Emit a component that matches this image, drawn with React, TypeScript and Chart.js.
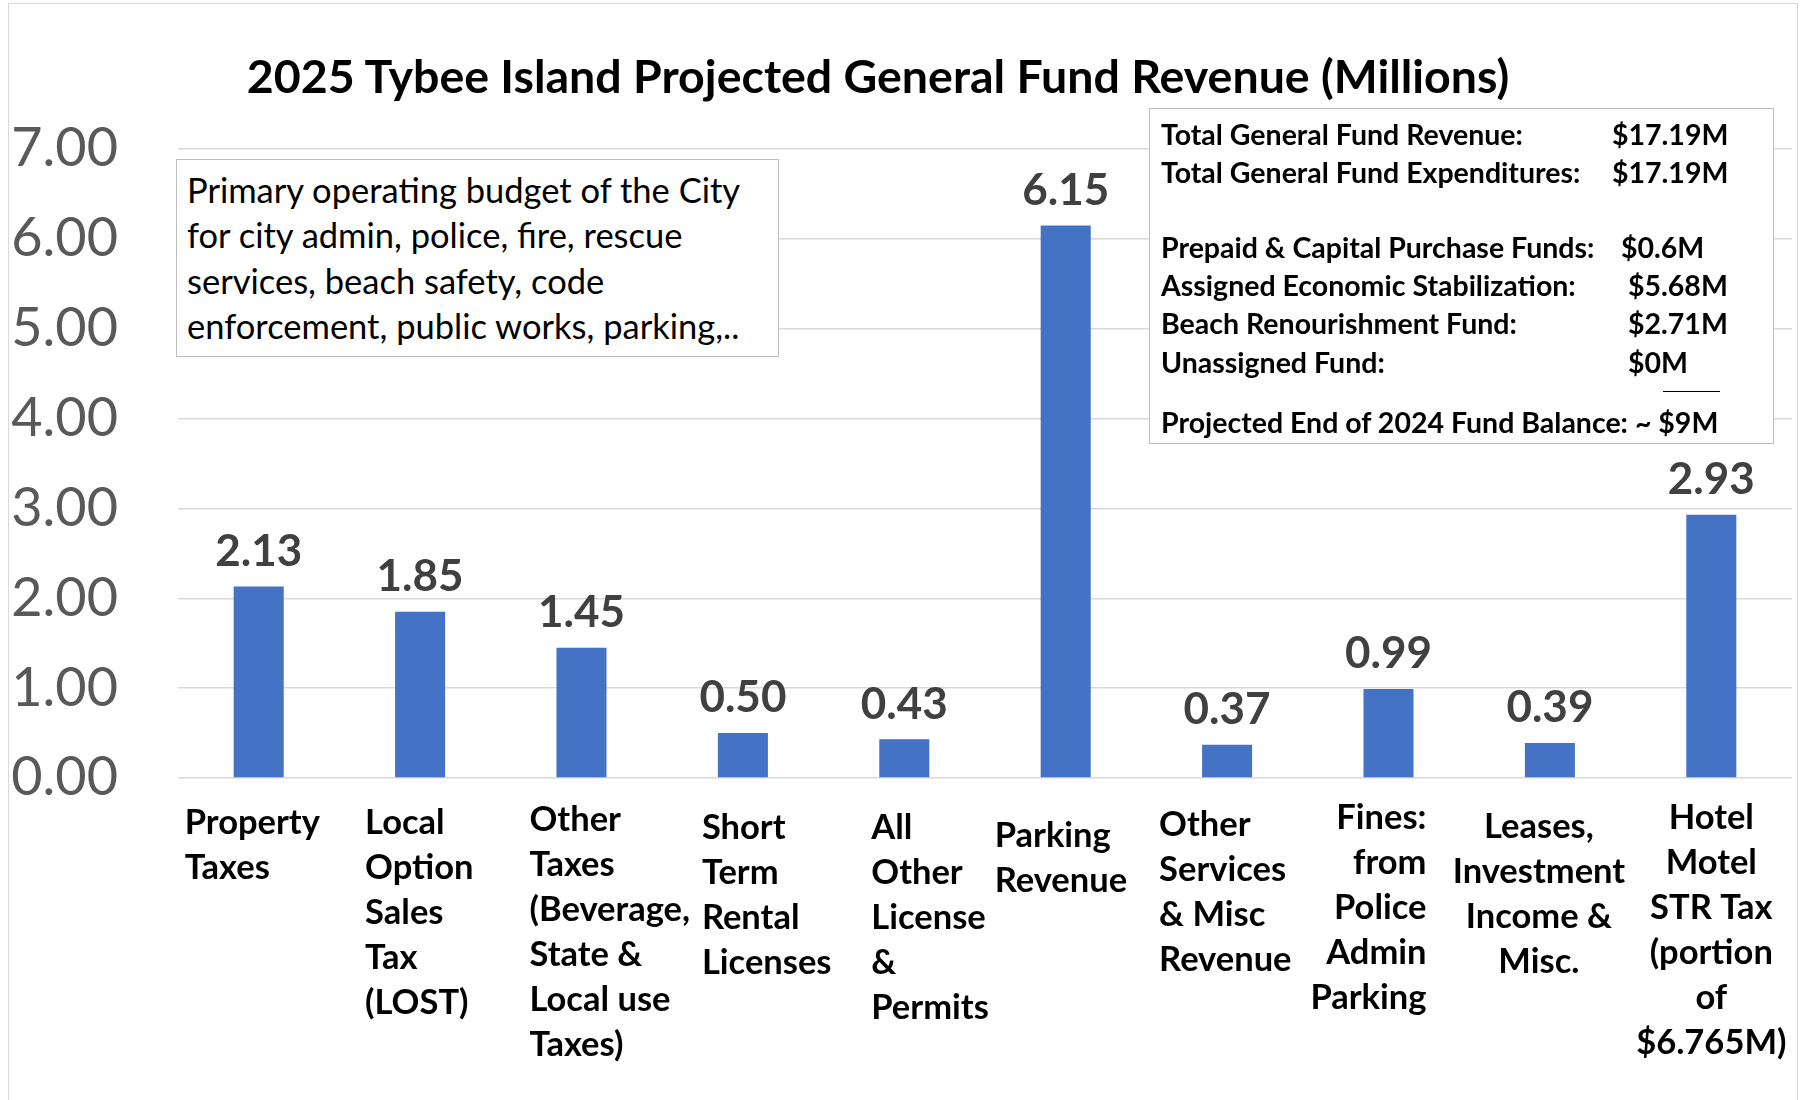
import React, { useEffect, useRef } from "react";
import { Chart, registerables } from "chart.js";

Chart.register(...registerables);

const categories: string[][] = [
  ["Property", "Taxes"],
  ["Local", "Option", "Sales", "Tax", "(LOST)"],
  ["Other", "Taxes", "(Beverage,", "State &", "Local use", "Taxes)"],
  ["Short", "Term", "Rental", "Licenses"],
  ["All", "Other", "License", "&", "Permits"],
  ["Parking", "Revenue"],
  ["Other", "Services", "& Misc", "Revenue"],
  ["Fines:", "from", "Police", "Admin", "Parking"],
  ["Leases,", "Investment", "Income &", "Misc."],
  ["Hotel", "Motel", "STR Tax", "(portion", "of", "$6.765M)"],
];

const revenue: number[] = [2.13, 1.85, 1.45, 0.5, 0.43, 6.15, 0.37, 0.99, 0.39, 2.93];

const yTicks: number[] = [0, 1, 2, 3, 4, 5, 6, 7];

const title = "2025 Tybee Island Projected General Fund Revenue (Millions)";

const noteLines: string[] = [
  "Primary operating budget of the City",
  "for city admin, police, fire, rescue",
  "services, beach safety, code",
  "enforcement, public works, parking,..",
];

const summaryLabels: string[] = [
  "Total General Fund Revenue:",
  "Total General Fund Expenditures:",
  "Prepaid & Capital Purchase Funds:",
  "Assigned Economic Stabilization:",
  "Beach Renourishment Fund:",
  "Unassigned Fund:",
];
const summaryValues: string[] = ["$17.19M", "$17.19M", "$0.6M", "$5.68M", "$2.71M", "$0M"];
const balanceLine = "Projected End of 2024 Fund Balance: ~ $9M";

// label styling per category (alignment, horizontal offset from category centre, first-line offset below axis)
const labelAlign: CanvasTextAlign[] = ["left", "left", "left", "left", "left", "left", "left", "right", "center", "center"];
const labelDx: number[] = [-74, -55, -52, -41, -33, -71, -68, 38, -11, 0];
const labelDy: number[] = [45, 45, 42, 50, 50, 58, 47, 40, 49, 40];

const FONT = "Lato, 'Open Sans', sans-serif";

export default function App() {
  const canvasRef = useRef<HTMLCanvasElement | null>(null);

  useEffect(() => {
    const canvas = canvasRef.current;
    if (!canvas) return;

    const valueLabels = {
      id: "valueLabels",
      afterDatasetsDraw(chart: any) {
        const { ctx } = chart;
        const meta = chart.getDatasetMeta(0);
        ctx.save();
        ctx.font = `bold 44px ${FONT}`;
        ctx.fillStyle = "#404040";
        ctx.textAlign = "center";
        ctx.textBaseline = "middle";
        meta.data.forEach((bar: any, i: number) => {
          ctx.fillText(revenue[i].toFixed(2), bar.x, bar.y - 35);
        });
        ctx.restore();
      },
    };

    const xLabels = {
      id: "xLabels",
      afterDraw(chart: any) {
        const { ctx, chartArea } = chart;
        const xs = chart.scales.x;
        ctx.save();
        ctx.font = `bold 34.5px ${FONT}`;
        ctx.fillStyle = "#000000";
        ctx.textBaseline = "middle";
        categories.forEach((lines, i) => {
          const cx = xs.getPixelForValue(i) + labelDx[i];
          ctx.textAlign = labelAlign[i];
          lines.forEach((line, j) => {
            ctx.fillText(line, cx, chartArea.bottom + labelDy[i] + j * 45);
          });
        });
        ctx.restore();
      },
    };

    const chart = new Chart(canvas, {
      type: "bar",
      data: {
        labels: categories.map((c) => c.join(" ")),
        datasets: [
          {
            data: revenue,
            backgroundColor: "#4472C4",
            borderWidth: 0,
            barPercentage: 0.31,
            categoryPercentage: 1,
          },
        ],
      },
      options: {
        animation: false,
        responsive: false,
        maintainAspectRatio: false,
        layout: { padding: { left: 0, right: 10, top: 149, bottom: 322 } },
        plugins: {
          legend: { display: false },
          tooltip: { enabled: false },
          title: { display: false },
        },
        scales: {
          x: {
            grid: { display: false },
            border: { display: false },
            ticks: { display: false },
            afterFit: (s: any) => {
              s.height = 0;
            },
          },
          y: {
            min: 0,
            max: 7,
            afterBuildTicks: (s: any) => {
              s.ticks = yTicks.map((v) => ({ value: v }));
            },
            afterFit: (s: any) => {
              s.width = 178;
            },
            grid: { color: "#D9D9D9", lineWidth: 1.5, drawTicks: false },
            border: { display: false },
            ticks: {
              padding: 60,
              color: "#595959",
              font: { family: FONT, size: 54 },
              callback: (v: any) => Number(v).toFixed(2),
            },
          },
        },
      },
      plugins: [valueLabels, xLabels],
    });
    return () => chart.destroy();
  }, []);

  const boxBorder = "1.5px solid #BFBFBF";
  const rowTops = [133, 171, 246, 284, 322, 361];
  const valueLefts = [462, 462, 471, 478, 478, 478];

  return (
    <div
      style={{
        position: "fixed",
        left: 0,
        top: 0,
        width: 1802,
        height: 1100,
        background: "#ffffff",
        overflow: "hidden",
        fontFamily: FONT,
      }}
    >
      <canvas ref={canvasRef} width={1802} height={1100} style={{ position: "absolute", left: 0, top: 0 }} />
      <div
        style={{
          position: "absolute",
          left: 8,
          top: 3,
          width: 1788,
          height: 1110,
          border: "1.5px solid #D9D9D9",
          pointerEvents: "none",
        }}
      />
      <div
        style={{
          position: "absolute",
          left: 0,
          width: 1756,
          top: 47,
          height: 56,
          lineHeight: "56px",
          textAlign: "center",
          fontWeight: 700,
          fontSize: 46.5,
          color: "#000",
          whiteSpace: "nowrap",
        }}
      >
        {title}
      </div>
      <div
        style={{
          position: "absolute",
          left: 176,
          top: 159,
          width: 603,
          height: 198,
          boxSizing: "border-box",
          border: boxBorder,
          background: "#fff",
          paddingLeft: 10,
          paddingTop: 7,
          fontSize: 34.5,
          lineHeight: "45.3px",
          color: "#000",
          whiteSpace: "nowrap",
        }}
      >
        {noteLines.map((l, i) => (
          <div key={i}>{l}</div>
        ))}
      </div>
      <div
        style={{
          position: "absolute",
          left: 1149,
          top: 108,
          width: 625,
          height: 336,
          boxSizing: "border-box",
          border: boxBorder,
          background: "#fff",
          fontSize: 28.5,
          fontWeight: 700,
          color: "#000",
          whiteSpace: "nowrap",
        }}
      >
        {summaryLabels.map((l, i) => (
          <React.Fragment key={i}>
            <div style={{ position: "absolute", left: 11, top: rowTops[i] - 108 - 19, lineHeight: "38px" }}>{l}</div>
            <div style={{ position: "absolute", left: valueLefts[i], top: rowTops[i] - 108 - 19, lineHeight: "38px" }}>
              {summaryValues[i]}
            </div>
          </React.Fragment>
        ))}
        <div
          style={{
            position: "absolute",
            left: 513,
            width: 57,
            top: 390 - 108,
            height: 0,
            borderTop: "1.5px solid #000",
          }}
        />
        <div style={{ position: "absolute", left: 11, top: 421 - 108 - 19, lineHeight: "38px" }}>{balanceLine}</div>
      </div>
    </div>
  );
}
